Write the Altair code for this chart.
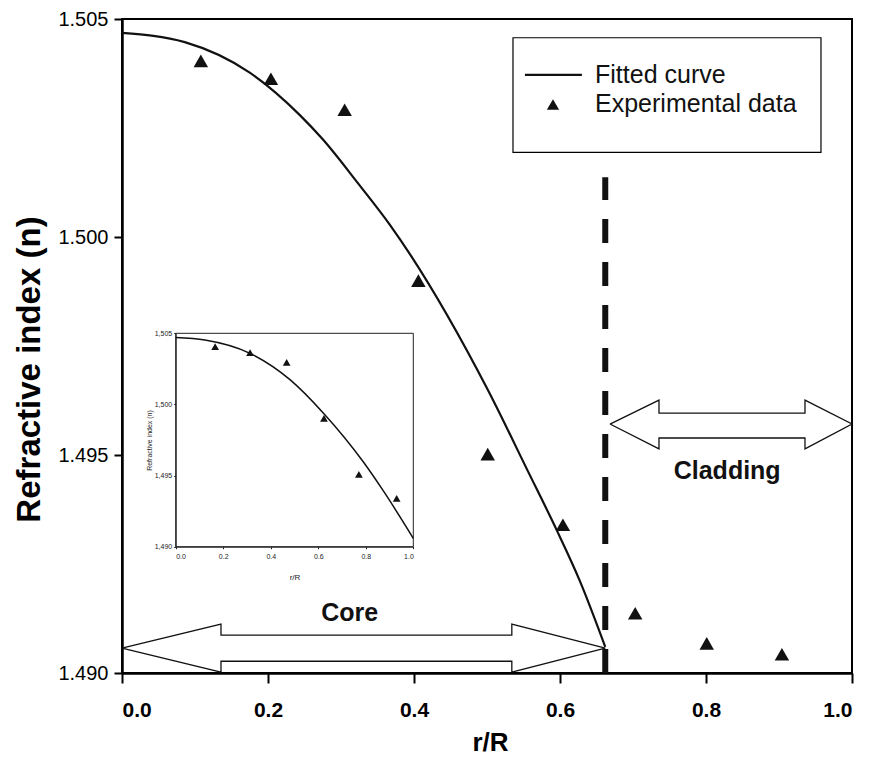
import altair as alt
import pandas as pd

FONT = "Liberation Sans"

# ---------------- main chart data ----------------
exp_r = [0.108, 0.204, 0.305, 0.406, 0.501, 0.604, 0.703, 0.801, 0.904]
exp_n = [1.50404, 1.50363, 1.50292, 1.49900, 1.49502, 1.49340, 1.49137, 1.49068, 1.49043]

fit_r = [0.0, 0.086, 0.175, 0.244, 0.275, 0.322, 0.367, 0.500, 0.556, 0.596, 0.627, 0.662]
fit_n = [1.50468, 1.50447, 1.50377, 1.50279, 1.50224, 1.50126, 1.50028,
         1.49653, 1.49463, 1.49326, 1.49212, 1.49060]

boundary_r = [0.662]
boundary_n0 = [1.490]
boundary_n1 = [1.50137]

# double-arrow outlines (closed polygons, data units)
core_px = [0.0, 0.1356, 0.1356, 0.534, 0.534, 0.662, 0.534, 0.534, 0.1356, 0.1356, 0.0]
core_py = [1.49057, 1.49112, 1.49087, 1.49087, 1.49112, 1.49057, 1.49002, 1.49027, 1.49027, 1.49002, 1.49057]
clad_px = [0.6685, 0.7356, 0.7356, 0.9356, 0.9356, 1.0, 0.9356, 0.9356, 0.7356, 0.7356, 0.6685]
clad_py = [1.49571, 1.49626, 1.49596, 1.49596, 1.49626, 1.49571, 1.49514, 1.49539, 1.49539, 1.49514, 1.49571]

region_labels = ["Core", "Cladding"]
region_r = [0.312, 0.829]
region_n = [1.49137, 1.49463]

# legend
legend_box_r = [0.5356, 0.9575]
legend_box_n = [1.50457, 1.50194]
legend_line_r = [0.552, 0.630]
legend_line_n = [1.50372, 1.50372]
legend_sym_r = [0.5904]
legend_sym_n = [1.50304]
legend_labels = ["Fitted curve", "Experimental data"]
legend_text_r = [0.648, 0.648]
legend_text_n = [1.50372, 1.50304]

x_ticks = [0.0, 0.2, 0.4, 0.6, 0.8, 1.0]
y_ticks = [1.490, 1.495, 1.500, 1.505]

# ---------------- inset data ----------------
in_exp_r = [0.166, 0.313, 0.467, 0.624, 0.771, 0.930]
in_exp_n = [1.50406, 1.50364, 1.50296, 1.49902, 1.49509, 1.49340]
in_fit_r = [0.0, 0.123, 0.313, 0.481, 0.621, 0.790, 0.874, 1.0]
in_fit_n = [1.50470, 1.50453, 1.50359, 1.50174, 1.49940, 1.49595, 1.49392, 1.49059]
in_frame_r = [0.0, 1.0]
in_frame_n = [1.490, 1.505]

TOP = 11
W, H = 730, 654

# ---------------- scales & axes ----------------
sx = alt.Scale(domain=[0, 1], nice=False, zero=False)
sy = alt.Scale(domain=[1.490, 1.505], nice=False, zero=False)

ax_x = alt.Axis(values=x_ticks, format=".1f", grid=False, title="r/R",
                labelFont=FONT, labelFontSize=21, labelFontWeight="bold", labelColor="black",
                labelPadding=16, tickSize=10, tickWidth=2, tickColor="black",
                domainColor="black", domainWidth=2.5,
                titleFont=FONT, titleFontSize=26, titleFontWeight="bold", titleColor="black",
                titleX=368, titleY=69, titleBaseline="middle", titleAlign="center")
ax_y = alt.Axis(values=y_ticks, format=".3f", grid=False, title="Refractive index (n)",
                labelFont=FONT, labelFontSize=20, labelColor="black", labelPadding=6,
                tickSize=8, tickWidth=2, tickColor="black",
                domainColor="black", domainWidth=2.5,
                titleFont=FONT, titleFontSize=33, titleFontWeight="bold", titleColor="black",
                titleAngle=270, titleX=-93, titleY=350, titleBaseline="middle", titleAlign="center")

X = lambda f="x": alt.X(f"{f}:Q", scale=sx, axis=ax_x)
Y = lambda f="y": alt.Y(f"{f}:Q", scale=sy, axis=ax_y)

# ---------------- main layers ----------------
legend_box = alt.Chart(pd.DataFrame({"x": [legend_box_r[0]], "x2": [legend_box_r[1]],
                                     "y": [legend_box_n[0]], "y2": [legend_box_n[1]]})).mark_rect(
    fill="white", stroke="black", strokeWidth=1.2).encode(x=X(), x2="x2:Q", y=Y(), y2="y2:Q")

fit_line = alt.Chart(pd.DataFrame({"x": fit_r, "y": fit_n})).mark_line(
    color="#111111", strokeWidth=2.2, interpolate="monotone").encode(x=X(), y=Y())

exp_pts = alt.Chart(pd.DataFrame({"x": exp_r, "y": exp_n})).mark_point(
    shape="triangle-up", filled=True, color="#111111", size=210, opacity=1).encode(x=X(), y=Y())

boundary = alt.Chart(pd.DataFrame({"x": boundary_r, "y": boundary_n0, "y2": boundary_n1})).mark_rule(
    color="#111111", strokeWidth=6, strokeDash=[24, 19]).encode(x=X(), y=Y(), y2="y2:Q")

arrow_rows = []
for name, xs, ys in [("core", core_px, core_py), ("clad", clad_px, clad_py)]:
    for i, (a, b) in enumerate(zip(xs, ys)):
        arrow_rows.append({"arrow": name, "i": i, "x": a, "y": b})
arrows = alt.Chart(pd.DataFrame(arrow_rows)).mark_line(
    color="#111111", strokeWidth=1.3).encode(
    x=X(), y=Y(), detail="arrow:N", order="i:Q")

region_text = alt.Chart(pd.DataFrame({"x": region_r, "y": region_n, "t": region_labels})).mark_text(
    font=FONT, fontSize=25, fontWeight="bold", color="#111111", align="center", baseline="middle").encode(
    x=X(), y=Y(), text="t:N")

legend_line = alt.Chart(pd.DataFrame({"x": legend_line_r, "y": legend_line_n})).mark_line(
    color="#111111", strokeWidth=2.2).encode(x=X(), y=Y())
legend_sym = alt.Chart(pd.DataFrame({"x": legend_sym_r, "y": legend_sym_n})).mark_point(
    shape="triangle-up", filled=True, color="#111111", size=150, opacity=1).encode(x=X(), y=Y())
legend_text = alt.Chart(pd.DataFrame({"x": legend_text_r, "y": legend_text_n, "t": legend_labels})).mark_text(
    font=FONT, fontSize=25, color="#111111", align="left", baseline="middle").encode(
    x=X(), y=Y(), text="t:N")

main = alt.layer(legend_box, fit_line, exp_pts, boundary, arrows, region_text,
                 legend_line, legend_sym, legend_text)

# ---------------- inset layers ----------------
ix0, ix1 = 53.7, 291.3
iy_top, iy_bot = 333.3 - 8 - TOP, 546.7 - 8 - TOP
six = alt.Scale(domain=[0, 1], range=[ix0, ix1], nice=False, zero=False)
siy = alt.Scale(domain=[1.490, 1.505], range=[iy_bot, iy_top], nice=False, zero=False)

ax_ix = alt.Axis(orient="bottom", offset=-(H - iy_bot), values=x_ticks, format=".1f", grid=False,
                 title="r/R", labelFont=FONT, labelFontSize=7, labelColor="#222", labelPadding=4,
                 tickSize=2, tickColor="#222", domainColor="#222", domainWidth=1,
                 titleFont=FONT, titleFontSize=8, titleFontWeight="normal", titleColor="#222",
                 titleY=31, titleX=(ix1 - ix0) / 2 + ix0, titleBaseline="middle", titleAlign="center")
ax_iy = alt.Axis(orient="left", offset=-ix0, values=y_ticks, grid=False,
                 labelExpr="replace(format(datum.value, '.3f'), '.', ',')",
                 title="Refractive index (n)", labelFont=FONT, labelFontSize=7, labelColor="#222",
                 labelPadding=2, tickSize=2, tickColor="#222", domainColor="#222", domainWidth=1,
                 titleFont=FONT, titleFontSize=7, titleFontWeight="normal", titleColor="#222",
                 titleAngle=270, titleX=-26, titleY=(iy_bot - iy_top) / 2 + iy_top,
                 titleBaseline="middle", titleAlign="center")

XI = lambda f="x": alt.X(f"{f}:Q", scale=six, axis=ax_ix)
YI = lambda f="y": alt.Y(f"{f}:Q", scale=siy, axis=ax_iy)

in_frame = alt.Chart(pd.DataFrame({"x": [in_frame_r[0]], "x2": [in_frame_r[1]],
                                   "y": [in_frame_n[0]], "y2": [in_frame_n[1]]})).mark_rect(
    fill="white", fillOpacity=0, stroke="#222", strokeWidth=1).encode(x=XI(), x2="x2:Q", y=YI(), y2="y2:Q")
in_line = alt.Chart(pd.DataFrame({"x": in_fit_r, "y": in_fit_n})).mark_line(
    color="#111111", strokeWidth=1.5, interpolate="monotone").encode(x=XI(), y=YI())
in_pts = alt.Chart(pd.DataFrame({"x": in_exp_r, "y": in_exp_n})).mark_point(
    shape="triangle-up", filled=True, color="#111111", size=60, opacity=1).encode(x=XI(), y=YI())

inset = alt.layer(in_frame, in_line, in_pts)

chart = alt.layer(main, inset).resolve_scale(x="independent", y="independent").properties(
    width=W, height=H,
    autosize=alt.AutoSizeParams(type="none"),
    padding={"left": 114, "top": TOP, "right": 11, "bottom": 101},
    background="white",
).configure_view(stroke="black", strokeWidth=2)

chart.save("out.html", embed_options={"renderer": "svg", "actions": False})
